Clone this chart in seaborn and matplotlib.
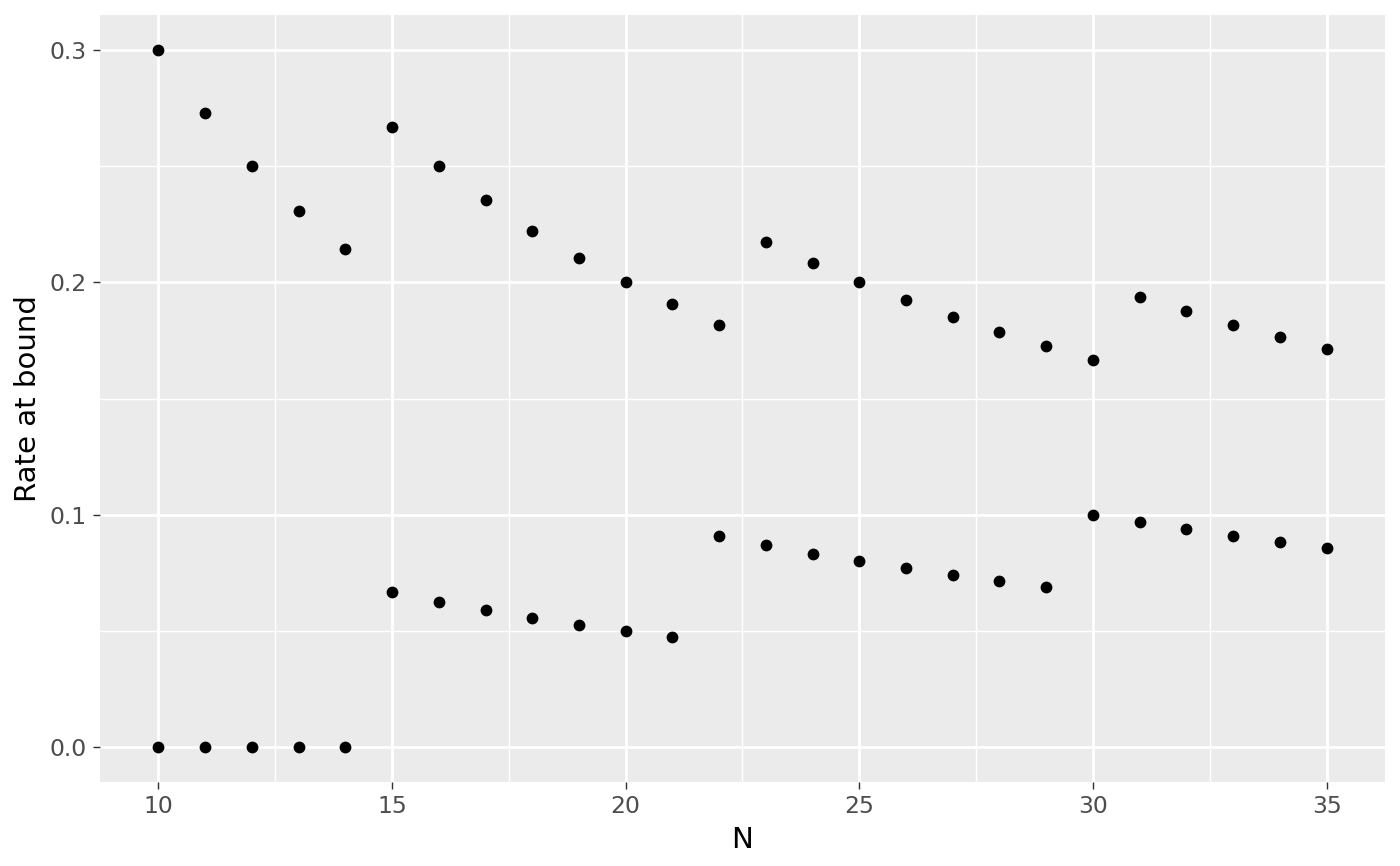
import matplotlib
matplotlib.use("Agg")
import matplotlib.pyplot as plt
import seaborn as sns
import pandas as pd

N = [10, 11, 12, 13, 14, 15, 16, 17, 18, 19, 20, 21, 22, 23, 24, 25, 26, 27, 28, 29, 30, 31, 32, 33, 34, 35]
upper = [0.3, 0.2727, 0.25, 0.2308, 0.2143, 0.2667, 0.25, 0.2353, 0.2222, 0.2105, 0.2, 0.1905, 0.1818,
         0.2174, 0.2083, 0.2, 0.1923, 0.1852, 0.1786, 0.1724, 0.1667, 0.1935, 0.1875, 0.1818, 0.1765, 0.1714]
lower = [0.0, 0.0, 0.0, 0.0, 0.0, 0.0667, 0.0625, 0.0588, 0.0556, 0.0526, 0.05, 0.0476, 0.0909,
         0.087, 0.0833, 0.08, 0.0769, 0.0741, 0.0714, 0.069, 0.1, 0.0968, 0.0938, 0.0909, 0.0882, 0.0857]
x_ticks = [10, 15, 20, 25, 30, 35]
y_ticks = [0.0, 0.1, 0.2, 0.3]
y_labels = ["0.0", "0.1", "0.2", "0.3"]

df = pd.DataFrame({"N": N * 2, "rate": upper + lower})

plt.rcParams['font.family'] = ['DejaVu Sans']
k = 0.96

fig = plt.figure(figsize=(7, 4.33), dpi=200)
ax = fig.add_axes([100/1400, 1 - 782/866, (1385-100)/1400, (782-15)/866])
ax.set_facecolor("#EBEBEB")

sns.scatterplot(data=df, x="N", y="rate", ax=ax, color="black", s=18, linewidth=0, zorder=3)

ax.set_xlim(8.75, 36.25)
ax.set_ylim(-0.015, 0.315)
ax.set_xticks(x_ticks)
ax.set_yticks(y_ticks)
ax.set_yticklabels(y_labels)
ax.set_xticks([12.5, 17.5, 22.5, 27.5, 32.5], minor=True)
ax.set_yticks([0.05, 0.15, 0.25], minor=True)

ax.grid(which="major", color="white", linewidth=1.07 * k, zorder=0)
ax.grid(which="minor", color="white", linewidth=0.53 * k, zorder=0)
ax.set_axisbelow(True)
for s in ax.spines.values():
    s.set_visible(False)

ax.tick_params(which="major", length=2.75 * k, width=0.53 * k, color="#333333",
               labelsize=8.8 * k, labelcolor="#4D4D4D", pad=2.2 * k)
ax.tick_params(which="minor", length=0)

ax.set_xlabel("N", fontsize=11 * k, color="black", labelpad=2.75 * k)
ax.set_ylabel("Rate at bound", fontsize=11 * k, color="black", labelpad=2.75 * k)

fig.savefig("out.png", dpi=200, facecolor="white")
